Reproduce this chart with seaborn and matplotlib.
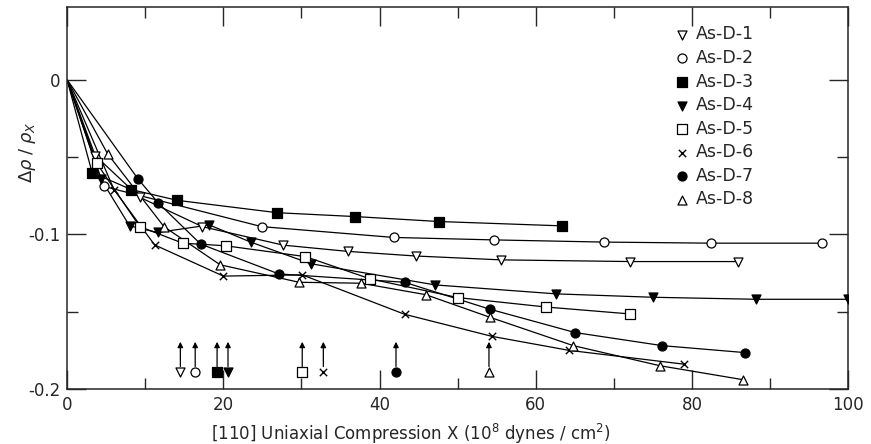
import numpy as np
import pandas as pd
import seaborn as sns
import matplotlib.pyplot as plt
from matplotlib.ticker import MultipleLocator, FuncFormatter

# values
names = ["As-D-1", "As-D-2", "As-D-3", "As-D-4", "As-D-5", "As-D-6", "As-D-7", "As-D-8"]

x_d1 = [3.6, 9.3, 17.3, 27.7, 35.9, 44.6, 55.5, 72.1, 85.9]
y_d1 = [-0.049, -0.076, -0.095, -0.107, -0.111, -0.114, -0.1165, -0.1176, -0.1176]

x_d2 = [4.7, 24.9, 41.8, 54.7, 68.7, 82.4, 96.6]
y_d2 = [-0.069, -0.095, -0.102, -0.1036, -0.105, -0.1057, -0.1057]

x_d3 = [3.2, 8.2, 14.1, 26.9, 36.9, 47.6, 63.3]
y_d3 = [-0.060, -0.071, -0.078, -0.086, -0.0885, -0.0917, -0.0945]

x_d4 = [4.3, 8.0, 11.6, 18.2, 23.5, 31.2, 47.1, 62.6, 75.0, 88.2, 100.0]
y_d4 = [-0.064, -0.0945, -0.0988, -0.0939, -0.105, -0.119, -0.1327, -0.1385, -0.1407, -0.142, -0.142]

x_d5 = [3.8, 9.3, 14.8, 20.3, 30.5, 38.8, 50.0, 61.3, 72.1]
y_d5 = [-0.054, -0.095, -0.1057, -0.1074, -0.1144, -0.1288, -0.1409, -0.147, -0.1515]

x_d6 = [6.0, 11.2, 20.0, 30.1, 43.2, 54.4, 64.2, 79.0]
y_d6 = [-0.071, -0.1068, -0.127, -0.1262, -0.1517, -0.166, -0.175, -0.184]

x_d7 = [9.1, 11.7, 17.1, 27.1, 43.2, 54.1, 65.0, 76.2, 86.8]
y_d7 = [-0.0643, -0.0798, -0.1063, -0.1256, -0.131, -0.1484, -0.1635, -0.172, -0.1765]

x_d8 = [5.2, 12.4, 19.6, 29.7, 37.6, 45.9, 54.1, 64.8, 75.9, 86.5]
y_d8 = [-0.048, -0.095, -0.1197, -0.131, -0.1316, -0.139, -0.1536, -0.172, -0.185, -0.194]

# arrows along the bottom (one per sample)
arrow_x = [14.5, 16.4, 19.2, 20.6, 30.1, 32.8, 42.1, 54.0]
arrow_y = -0.189

xs_all = [x_d1, x_d2, x_d3, x_d4, x_d5, x_d6, x_d7, x_d8]
ys_all = [y_d1, y_d2, y_d3, y_d4, y_d5, y_d6, y_d7, y_d8]

# marker, face colour
styles = [("v", "white"), ("o", "white"), ("s", "black"), ("v", "black"),
          ("s", "white"), ("x", "black"), ("o", "black"), ("^", "white")]

sns.set_style("ticks")
plt.rcParams["font.family"] = ["DejaVu Sans"]
plt.rcParams["axes.unicode_minus"] = False

fig = plt.figure(figsize=(8.71, 4.44), dpi=100)
ax = fig.add_axes([0.077, 0.124, 0.897, 0.860])

handles = []
for i in range(0, len(names)):
	mk, fc = styles[i]
	lx = [0.0] + xs_all[i]
	ly = [0.0] + ys_all[i]
	sns.lineplot(x=lx, y=ly, ax=ax, color="black", lw=0.9, estimator=None, sort=False)
	if mk == "x":
		kw = dict(marker="x", color="black", s=28, linewidth=1.0)
	else:
		kw = dict(marker=mk, color=fc, edgecolor="black", s=42, linewidth=0.9)
	h = ax.scatter(xs_all[i], ys_all[i], zorder=3, label=names[i], **kw)
	handles.append(h)
	# arrow marker at bottom
	ax.scatter([arrow_x[i]], [arrow_y], zorder=3, **kw)
	ax.annotate("", xy=(arrow_x[i], -0.1695), xytext=(arrow_x[i], -0.1855),
		arrowprops=dict(arrowstyle="-|>", color="black", lw=0.9,
			mutation_scale=8, shrinkA=0, shrinkB=0))

ax.set_xlim(0, 100)
ax.set_ylim(-0.2, 0.047)

ax.xaxis.set_major_locator(MultipleLocator(20))
ax.xaxis.set_minor_locator(MultipleLocator(10))
ax.yaxis.set_major_locator(MultipleLocator(0.1))
ax.yaxis.set_minor_locator(MultipleLocator(0.05))
ax.yaxis.set_major_formatter(FuncFormatter(lambda v, p: "0" if abs(v) < 1e-9 else "%.1f" % v))

ax.tick_params(which="both", direction="in", top=True, right=True, labelsize=12, width=1.0)
ax.tick_params(which="major", length=14, pad=5)
ax.tick_params(which="minor", length=8)
for s in ax.spines.values():
	s.set_linewidth(1.1)

ax.set_xlabel("[110] Uniaxial Compression X (10$^8$ dynes / cm$^2$)", fontsize=12)
ax.xaxis.set_label_coords(0.44, -0.085)
ax.set_ylabel(r"$\Delta\rho\;/\;\rho_X$", fontsize=13)
ax.yaxis.set_label_coords(-0.037, 0.62)

ax.legend(handles=handles, labels=names, loc="upper right", bbox_to_anchor=(0.88, 0.952),
	frameon=False, fontsize=12.5, handletextpad=0.3, borderpad=0, borderaxespad=0,
	labelspacing=0.32, handlelength=1.0)

plt.savefig("out.png", dpi=100, facecolor="w")
